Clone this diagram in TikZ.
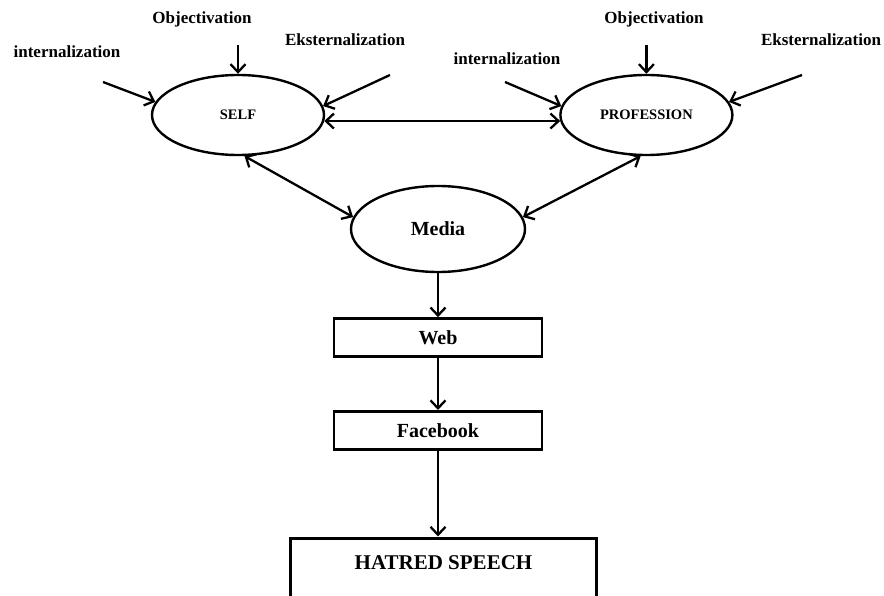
\documentclass[tikz,border=0pt]{standalone}
\usepackage{fontspec}
\setmainfont{Liberation Serif}
\usetikzlibrary{arrows.meta,positioning,shapes.geometric}

\begin{document}
\begin{tikzpicture}[
  x=1pt, y=-1pt,
  oval/.style={draw, ellipse, line width=2.4pt, inner sep=0pt,
    minimum width=172pt, minimum height=80pt,
    font=\fontsize{14.5}{17}\selectfont\bfseries},
  box/.style={draw, rectangle, line width=2.8pt, minimum width=208pt,
    minimum height=38pt, font=\fontsize{20}{24}\selectfont\bfseries},
  lbl/.style={font=\fontsize{17}{20}\selectfont\bfseries, inner sep=0pt},
  arr/.style={-{Straight Barb[length=8pt, width=15pt]}, line width=2.3pt},
  biarr/.style={{Straight Barb[length=8pt, width=15pt]}-{Straight Barb[length=8pt, width=15pt]},
    line width=2.3pt}
]
  \path[use as bounding box, clip] (0,0) rectangle (884,596);

  % ovals
  \node[oval] (self) at (238,115) {SELF};
  \node[oval, right=234pt of self] (prof) {PROFESSION};
  \node[oval, minimum width=174pt, minimum height=86pt,
    font=\fontsize{20}{24}\selectfont\bfseries] (media) at (438,229) {Media};

  % chain of boxes
  \node[box, below=44pt of media] (web) {Web};
  \node[box, below=52pt of web] (fb) {Facebook};
  \node[draw, line width=3.4pt, minimum width=306pt, inner ysep=0pt,
    text height=31pt, text depth=54pt, anchor=north,
    font=\fontsize{21}{25}\selectfont\bfseries]
    (hate) at (443.5,536.5) {HATRED SPEECH};

  % labels
  \node[lbl] (intL) at (67,52) {internalization};
  \node[lbl] (objL) at (202,19) {Objectivation};
  \node[lbl] (eksL) at (345,40) {Eksternalization};
  \node[lbl] (intR) at (507,59) {internalization};
  \node[lbl] (objR) at (654,19) {Objectivation};
  \node[lbl] (eksR) at (821,40) {Eksternalization};

  \coordinate (intLs) at (103,82);
  \coordinate (objLs) at (238,45);
  \coordinate (eksLs) at (390,75);
  \coordinate (intRs) at (505,82);
  \coordinate (objRs) at (prof.north |- objLs);
  \coordinate (eksRs) at (802,75);

  \draw[arr] (intLs) -- (self.171);
  \draw[arr] (objLs) -- (self.north);
  \draw[arr] (eksLs) -- (self.6);
  \draw[biarr] (self.-4) -- (prof.184);
  \draw[arr] (intRs) -- (prof.174);
  \draw[arr] (objRs) -- (prof.north);
  \draw[arr] (eksRs) -- (prof.9);
  \draw[biarr] (self.-81) -- (media.172);
  \draw[biarr] (prof.-98) -- (media.8);
  \draw[arr] (media) -- (web);
  \draw[arr] (web) -- (fb);
  \draw[arr] (fb.south) -- (fb.south |- hate.north);
\end{tikzpicture}
\end{document}
